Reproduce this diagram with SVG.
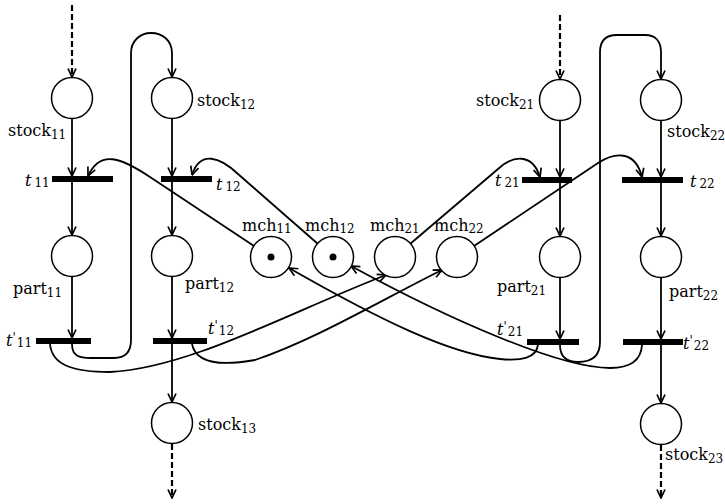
<svg xmlns="http://www.w3.org/2000/svg" width="725" height="504" viewBox="0 0 725 504">
<style>
.pl{fill:#fff;stroke:#000;stroke-width:1.5}
.tok{fill:#000}
.tr{fill:#000}
.c{fill:none;stroke:#000;stroke-width:1.8}
.d{fill:none;stroke:#000;stroke-width:2.2;stroke-dasharray:6 3}
text{font-family:"DejaVu Serif","Liberation Serif",serif;font-size:16px;fill:#000}
.s{font-size:12px}
.i{font-style:italic}
</style>
<defs>
<marker id="ah" viewBox="0 0 10 10" refX="9.5" refY="5" markerWidth="10" markerHeight="10" markerUnits="userSpaceOnUse" orient="auto">
<path d="M1,1 L9.5,5 L1,9" fill="none" stroke="#000" stroke-width="1.7" stroke-dasharray="none"/>
</marker>
</defs>
<rect width="725" height="504" fill="#fff"/>
<g id="connectors">
<path class="d" d="M72,5 L72,77" marker-end="url(#ah)"/>
<path class="c" d="M72,119 L72,176" marker-end="url(#ah)"/>
<path class="c" d="M72,182 L72,235" marker-end="url(#ah)"/>
<path class="c" d="M72,277 L72,338" marker-end="url(#ah)"/>
<path class="c" d="M172,119 L172,176" marker-end="url(#ah)"/>
<path class="c" d="M172,182 L172,235" marker-end="url(#ah)"/>
<path class="c" d="M172,277 L172,338" marker-end="url(#ah)"/>
<path class="c" d="M172,344 L172,402" marker-end="url(#ah)"/>
<path class="d" d="M172,444 L172,498" marker-end="url(#ah)"/>
<path class="d" d="M560,15 L560,79" marker-end="url(#ah)"/>
<path class="c" d="M560,121 L560,177" marker-end="url(#ah)"/>
<path class="c" d="M560,183 L560,236" marker-end="url(#ah)"/>
<path class="c" d="M560,278 L560,339" marker-end="url(#ah)"/>
<path class="c" d="M661,121 L661,177" marker-end="url(#ah)"/>
<path class="c" d="M661,183 L661,236" marker-end="url(#ah)"/>
<path class="c" d="M661,278 L661,339" marker-end="url(#ah)"/>
<path class="c" d="M661,345 L661,403" marker-end="url(#ah)"/>
<path class="d" d="M661,445 L661,498" marker-end="url(#ah)"/>
<path class="c" d="M72,344 C72,356 79,358 91,358 L114,358 C126,358 131,352 131,340 L131,53 C131,41 140,33 151,33 C163,33 172,41 172,53 L172,77" marker-end="url(#ah)"/>
<path class="c" d="M560,345 C560,357 567,362 578,362 C592,362 600,356 600,342 L600,52 C600,41 606,35 617,35 L645,35 C656,35 661,42 661,52 L661,79" marker-end="url(#ah)"/>
<path class="c" d="M254,246 L150,177 C120,157 100,150 88,176" marker-end="url(#ah)"/>
<path class="c" d="M318,244 L238,174 C220,157 200,150 192,175" marker-end="url(#ah)"/>
<path class="c" d="M410,244 L498,169 C512,156 532,152 540,177" marker-end="url(#ah)"/>
<path class="c" d="M474,246 L598,163 C615,152 635,150 642,177" marker-end="url(#ah)"/>
<path class="c" d="M50,344 C52,366 75,372 110,372 C190,368 290,312 386,275" marker-end="url(#ah)"/>
<path class="c" d="M192,344 C196,364 222,366 255,360 C315,340 385,298 442,270" marker-end="url(#ah)"/>
<path class="c" d="M538,345 C536,358 522,361 500,359 C450,354 380,320 289,268" marker-end="url(#ah)"/>
<path class="c" d="M642,345 C641,362 628,368 610,368 C560,368 450,320 351,266" marker-end="url(#ah)"/>
</g>
<g id="stock11"><circle class="pl" cx="72" cy="98" r="20.5"/><text x="8" y="136">stock<tspan class="s" dy="3">11</tspan></text></g>
<g id="stock12"><circle class="pl" cx="172" cy="98" r="20.5"/><text x="197" y="106">stock<tspan class="s" dy="3">12</tspan></text></g>
<g id="stock13"><circle class="pl" cx="172" cy="423" r="20.5"/><text x="198" y="430">stock<tspan class="s" dy="3">13</tspan></text></g>
<g id="stock21"><circle class="pl" cx="560" cy="100" r="20.5"/><text x="476" y="106">stock<tspan class="s" dy="3">21</tspan></text></g>
<g id="stock22"><circle class="pl" cx="661" cy="100" r="20.5"/><text x="667" y="137">stock<tspan class="s" dy="3">22</tspan></text></g>
<g id="stock23"><circle class="pl" cx="661" cy="424" r="20.5"/><text x="665" y="460">stock<tspan class="s" dy="3">23</tspan></text></g>
<g id="part11"><circle class="pl" cx="72" cy="256" r="20.5"/><text x="13" y="294">part<tspan class="s" dy="3">11</tspan></text></g>
<g id="part12"><circle class="pl" cx="172" cy="256" r="20.5"/><text x="185" y="289">part<tspan class="s" dy="3">12</tspan></text></g>
<g id="part21"><circle class="pl" cx="560" cy="257" r="20.5"/><text x="497" y="292">part<tspan class="s" dy="3">21</tspan></text></g>
<g id="part22"><circle class="pl" cx="661" cy="257" r="20.5"/><text x="669" y="297">part<tspan class="s" dy="3">22</tspan></text></g>
<g id="mch11"><circle class="pl" cx="271" cy="257" r="20.5"/><circle class="tok" cx="271" cy="257" r="3.5"/><text x="242" y="231">mch<tspan class="s" dy="2">11</tspan></text></g>
<g id="mch12"><circle class="pl" cx="333" cy="257" r="20.5"/><circle class="tok" cx="333" cy="257" r="3.5"/><text x="305" y="231">mch<tspan class="s" dy="2">12</tspan></text></g>
<g id="mch21"><circle class="pl" cx="395" cy="257" r="20.5"/><text x="370" y="231">mch<tspan class="s" dy="2">21</tspan></text></g>
<g id="mch22"><circle class="pl" cx="457" cy="257" r="20.5"/><text x="434" y="231">mch<tspan class="s" dy="2">22</tspan></text></g>
<g id="t11"><rect class="tr" x="52" y="176" width="61" height="6"/><text x="25" y="186"><tspan class="i">t</tspan><tspan class="s" dx="3" dy="1">11</tspan></text></g>
<g id="t12"><rect class="tr" x="161" y="176" width="51" height="6"/><text x="216" y="190"><tspan class="i">t</tspan><tspan class="s" dx="3" dy="1">12</tspan></text></g>
<g id="t21"><rect class="tr" x="522" y="177" width="50" height="6"/><text x="495" y="186"><tspan class="i">t</tspan><tspan class="s" dx="3" dy="1">21</tspan></text></g>
<g id="t22"><rect class="tr" x="622" y="177" width="61" height="6"/><text x="690" y="187"><tspan class="i">t</tspan><tspan class="s" dx="3" dy="1">22</tspan></text></g>
<g id="tp11"><rect class="tr" x="36" y="338" width="55" height="6"/><text x="6" y="346"><tspan class="i">t</tspan><tspan class="s" dy="-4">'</tspan><tspan class="s" dx="1" dy="5">11</tspan></text></g>
<g id="tp12"><rect class="tr" x="153" y="338" width="54" height="6"/><text x="208" y="334"><tspan class="i">t</tspan><tspan class="s" dy="-4">'</tspan><tspan class="s" dx="1" dy="5">12</tspan></text></g>
<g id="tp21"><rect class="tr" x="527" y="339" width="52" height="6"/><text x="497" y="335"><tspan class="i">t</tspan><tspan class="s" dy="-4">'</tspan><tspan class="s" dx="1" dy="5">21</tspan></text></g>
<g id="tp22"><rect class="tr" x="623" y="339" width="60" height="6"/><text x="683" y="349"><tspan class="i">t</tspan><tspan class="s" dy="-4">'</tspan><tspan class="s" dx="1" dy="5">22</tspan></text></g>
</svg>
